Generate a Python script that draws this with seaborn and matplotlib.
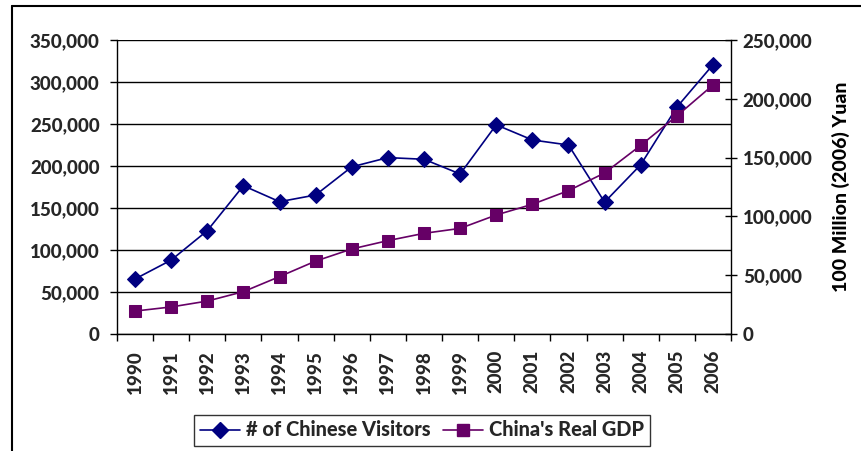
import numpy as np
import pandas as pd
import matplotlib
matplotlib.use("Agg")
import matplotlib.pyplot as plt
from matplotlib.lines import Line2D
from matplotlib.ticker import FuncFormatter, FixedLocator
import seaborn as sns

years = list(range(1990, 2007))
year_labels = [str(y) for y in years]
visitors = [65500, 88000, 123000, 176500, 157500, 165500, 199000, 210000, 208000,
            190500, 249000, 231000, 225000, 157000, 201500, 270000, 320500]
gdp = [19500, 23000, 28000, 36000, 48800, 62000, 72300, 79400, 85600,
       89800, 101200, 110300, 121900, 136900, 160400, 185400, 211700]
visitor_label = "# of Chinese Visitors"
gdp_label = "China's Real GDP"
right_ylabel = "100 Million (2006) Yuan"

df = pd.DataFrame({"year": years, "visitors": visitors, "gdp": gdp})

sns.set_theme(style="white")
plt.rcParams['font.family'] = ['Lato', 'DejaVu Sans']
W_BOLD = 900
plt.rcParams['font.weight'] = W_BOLD

W, H = 862, 451
fig = plt.figure(figsize=(W / 100, H / 100), dpi=100)
ax = fig.add_axes([117 / W, 1 - 334 / H, (731 - 117) / W, (334 - 40) / H])
ax2 = ax.twinx()

navy = "#000080"
purple = "#660066"
fs = 13.5

sns.lineplot(data=df, x="year", y="visitors", ax=ax, color=navy, marker="D",
             markersize=8.5, markeredgecolor=navy, linewidth=1.2, legend=False)
sns.lineplot(data=df, x="year", y="gdp", ax=ax2, color=purple, marker="s",
             markersize=9, markeredgecolor=purple, linewidth=1.2, legend=False)

ax.set_xlim(1989.5, 2006.5)
ax.set_ylim(0, 350000)
ax2.set_ylim(0, 250000)

fmt = FuncFormatter(lambda v, p: f"{int(v):,}")
ax.yaxis.set_major_locator(FixedLocator(np.arange(0, 350001, 50000)))
ax2.yaxis.set_major_locator(FixedLocator(np.arange(0, 250001, 50000)))
ax.yaxis.set_major_formatter(fmt)
ax2.yaxis.set_major_formatter(fmt)

ax.set_xticks(years)
ax.set_xticklabels(year_labels, rotation=90, fontsize=fs, fontweight=W_BOLD)
ax.set_xticks(np.arange(1989.5, 2007, 1), minor=True)
ax.tick_params(axis='x', which='major', length=0, pad=11.5)
ax.tick_params(axis='x', which='minor', length=5, width=1, color='black', direction='out', bottom=True)
ax.tick_params(axis='y', which='major', length=5, width=1, color='black', direction='out', left=True,
               pad=7.5, labelsize=fs)
ax2.tick_params(axis='y', which='major', length=9, width=1, color='black', direction='inout', right=True,
                pad=4, labelsize=fs)
for lab in ax.get_yticklabels() + ax2.get_yticklabels():
    lab.set_fontweight(W_BOLD)

ax.grid(axis='y', color='black', linewidth=1)
ax.set_axisbelow(True)
ax2.grid(False)
ax.set_xlabel("")
ax.set_ylabel("")
ax2.set_ylabel(right_ylabel, fontsize=14, fontweight=W_BOLD, color='black')
ax2.yaxis.set_label_coords(1.1645, 0.5)

for a in (ax, ax2):
    for s in a.spines.values():
        s.set_color('black')
        s.set_linewidth(1)
    a.spines['top'].set_visible(False)
ax.spines['right'].set_visible(False)
ax2.spines['left'].set_visible(False)
ax2.spines['bottom'].set_visible(False)

handles = [Line2D([], [], color=navy, marker="D", markersize=8.5, linewidth=1.2),
           Line2D([], [], color=purple, marker="s", markersize=9, linewidth=1.2)]
leg = fig.legend(handles, [visitor_label, gdp_label], loc='center',
                 bbox_to_anchor=(422 / W, 1 - 430 / H), ncol=2, frameon=True,
                 fancybox=False, edgecolor='black', fontsize=14.4, handlelength=2.0,
                 handletextpad=0.3, columnspacing=0.6, borderpad=0.3)
leg.get_frame().set_linewidth(1)
for t in leg.get_texts():
    t.set_fontweight(W_BOLD)

# outer chart border (cropped at right and bottom)
fig.add_artist(Line2D([12.5 / W, 12.5 / W], [-0.02, 1 - 6 / H], color='black', linewidth=1.5,
                      transform=fig.transFigure))
fig.add_artist(Line2D([12.5 / W, 1.02], [1 - 6 / H, 1 - 6 / H], color='black', linewidth=1.5,
                      transform=fig.transFigure))

fig.savefig("out.png", dpi=100)
